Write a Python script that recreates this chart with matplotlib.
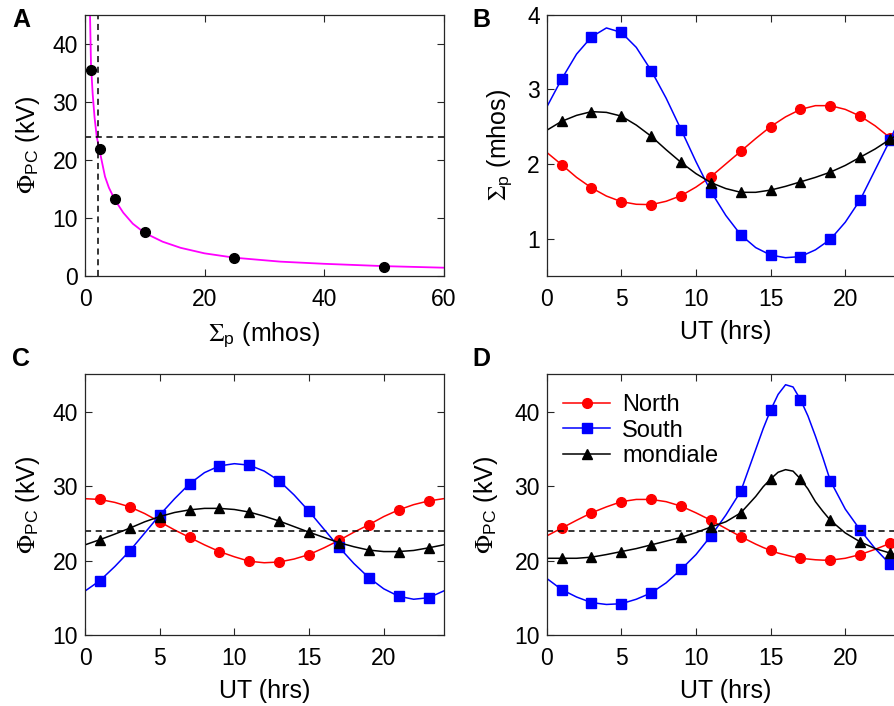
import numpy as np
import matplotlib
matplotlib.use("Agg")
import matplotlib.pyplot as plt

plt.rcParams['font.family'] = ['Liberation Sans', 'DejaVu Sans']
plt.rcParams['mathtext.fontset'] = 'custom'
plt.rcParams['mathtext.rm'] = 'STIXGeneral'
plt.rcParams['mathtext.it'] = 'STIXGeneral:italic'
plt.rcParams['mathtext.bf'] = 'STIXGeneral:bold'
plt.rcParams['mathtext.sf'] = 'Liberation Sans'
plt.rcParams['font.size'] = 16

# ---------------- Panel A data ----------------
a_sigma_pts = [1, 2.5, 5, 10, 25, 50]
a_phi_pts = [35.5, 21.8, 13.3, 7.5, 3.15, 1.5]
a_curve_x = [0.84, 1.0, 1.28, 1.6, 1.96, 2.5, 3.35, 4.0, 5.0, 6.4, 8.0, 10, 13, 16, 20, 25, 32.7, 40, 50, 60]
a_curve_y = [45, 36.5, 31.4, 27.3, 24.0, 21.3, 17.1, 15.2, 13.1, 10.9, 9.0, 7.4, 5.9, 4.85, 3.9, 3.15, 2.47, 2.1, 1.7, 1.43]
a_vline = 2.1
phi_ref = 24

ut = list(range(0, 25))  # 0..24 hours

# ---------------- Panel B data (Sigma_p, mhos) ----------------
b_north = [2.155, 1.99, 1.82, 1.68, 1.57, 1.495, 1.46, 1.455, 1.50, 1.575, 1.69, 1.83, 2.00,
           2.17, 2.34, 2.50, 2.63, 2.73, 2.78, 2.78, 2.73, 2.64, 2.51, 2.35, 2.155]
b_south = [2.76, 3.135, 3.47, 3.70, 3.82, 3.76, 3.56, 3.25, 2.88, 2.46, 2.03, 1.63, 1.31,
           1.05, 0.88, 0.78, 0.745, 0.76, 0.85, 0.99, 1.22, 1.52, 1.92, 2.32, 2.76]
b_world = [2.45, 2.57, 2.65, 2.70, 2.69, 2.64, 2.52, 2.37, 2.19, 2.02, 1.87, 1.75, 1.67,
           1.62, 1.62, 1.65, 1.70, 1.76, 1.82, 1.89, 1.98, 2.09, 2.20, 2.33, 2.45]

# ---------------- Panel C data (Phi_PC, kV) ----------------
c_north = [28.3, 28.2, 27.8, 27.2, 26.3, 25.2, 24.1, 23.1, 22.1, 21.2, 20.5, 19.9, 19.7,
           19.8, 20.2, 20.8, 21.7, 22.7, 23.8, 24.8, 25.9, 26.8, 27.5, 28.0, 28.3]
c_south = [15.9, 17.3, 19.2, 21.3, 23.7, 26.1, 28.3, 30.3, 31.8, 32.7, 33.0, 32.8, 32.0,
           30.7, 28.8, 26.6, 24.2, 21.8, 19.6, 17.7, 16.2, 15.2, 14.8, 15.0, 15.9]
c_world = [22.1, 22.8, 23.55, 24.35, 25.2, 25.9, 26.45, 26.8, 27.0, 27.0, 26.85, 26.5, 25.95,
           25.3, 24.55, 23.8, 23.1, 22.4, 21.85, 21.4, 21.2, 21.2, 21.35, 21.7, 22.1]

# ---------------- Panel D data (Phi_PC, kV), half-hour readings near the peak ----------------
d_ut = [0, 1, 2, 3, 4, 5, 6, 7, 8, 9, 10, 11, 12, 13, 14, 14.5, 15, 15.5, 16, 16.5,
        17, 17.5, 18, 18.5, 19, 20, 21, 22, 23, 24]
d_north = [23.3, 24.35, 25.4, 26.4, 27.2, 27.9, 28.2, 28.2, 27.9, 27.3, 26.4, 25.4, 24.3,
           23.2, 22.2, 21.75, 21.35, 21.0, 20.75, 20.5, 20.3, 20.2, 20.1, 20.05, 20.05,
           20.3, 20.8, 21.5, 22.3, 23.3]
d_south = [17.6, 16.1, 15.1, 14.35, 14.1, 14.2, 14.8, 15.65, 17.0, 18.8, 20.8, 23.3, 26.1,
           29.3, 34.9, 37.7, 40.2, 42.3, 43.6, 43.3, 41.6, 39.4, 36.7, 33.8, 30.7,
           26.9, 24.1, 21.6, 19.5, 17.6]
d_world = [20.3, 20.3, 20.3, 20.45, 20.8, 21.2, 21.6, 22.1, 22.6, 23.1, 23.75, 24.5, 25.2,
           26.4, 28.6, 29.9, 30.95, 31.85, 32.2, 32.0, 30.95, 29.6, 27.9, 26.6, 25.4,
           23.7, 22.5, 21.6, 21.0, 20.3]

labels = ['North', 'South', 'mondiale']
colors = ['#ff0000', '#0000ff', '#000000']
markers = ['o', 's', '^']

fig = plt.figure(figsize=(8.94, 7.06), dpi=100)
W, H = 894, 706

def ax_at(x0, y0, x1, y1):
    return fig.add_axes([x0 / W, 1 - y1 / H, (x1 - x0) / W, (y1 - y0) / H])

axA = ax_at(85, 14.5, 443.5, 276)
axB = ax_at(546.7, 14.5, 905, 276)
axC = ax_at(85, 374.3, 443.5, 635)
axD = ax_at(546.7, 374.3, 905, 635)

LBL = 18
spine_c = '#262626'
for ax in (axA, axB, axC, axD):
    ax.tick_params(direction='in', top=True, right=True, length=5, width=0.8,
                   colors=spine_c, labelcolor='black', labelsize=16.5)
    ax.tick_params(axis='x', pad=8.5)
    ax.tick_params(axis='y', pad=5)
    for s in ax.spines.values():
        s.set_color(spine_c)
        s.set_linewidth(0.9)

# Panel A
axA.plot(a_curve_x, a_curve_y, color='#ff00ff', lw=1.3)
axA.plot(a_sigma_pts, a_phi_pts, 'o', color='black', ms=7)
axA.axhline(phi_ref, color='black', ls=(0, (4, 3)), lw=1.1)
axA.axvline(a_vline, color='black', ls=(0, (4, 3)), lw=1.1)
axA.set_xlim(0, 60)
axA.set_ylim(0, 45)
axA.set_xticks([0, 20, 40, 60])
axA.set_yticks([0, 10, 20, 30, 40])
axA.set_xlabel(r'$\Sigma_{\mathsf{p}}$ (mhos)', fontsize=LBL)
axA.set_ylabel(r'$\Phi_{\mathsf{PC}}$ (kV)', fontsize=LBL)


def draw_series(ax, x, series):
    x = np.array(x, dtype=float)
    odd = (x % 2 == 1)
    for vals, lab, c, m in zip(series, labels, colors, markers):
        v = np.array(vals)
        ax.plot(x, v, color=c, lw=1.1)
        ax.plot(x[odd], v[odd], ls='none', marker=m, color=c, ms=7)
        ax.plot([], [], color=c, lw=1.1, marker=m, ms=7, label=lab)

draw_series(axB, ut, [b_north, b_south, b_world])
axB.set_xlim(0, 24)
axB.set_ylim(0.5, 4)
axB.set_yticks([1, 2, 3, 4])
axB.set_xticks([0, 5, 10, 15, 20])
axB.set_xlabel('UT (hrs)', fontsize=LBL)
axB.set_ylabel(r'$\Sigma_{\mathsf{p}}$ (mhos)', fontsize=LBL)

for ax, x, ser in ((axC, ut, [c_north, c_south, c_world]), (axD, d_ut, [d_north, d_south, d_world])):
    draw_series(ax, x, ser)
    ax.axhline(phi_ref, color='black', ls=(0, (4, 3)), lw=1.1)
    ax.set_xlim(0, 24)
    ax.set_ylim(10, 45)
    ax.set_yticks([10, 20, 30, 40])
    ax.set_xticks([0, 5, 10, 15, 20])
    ax.set_xlabel('UT (hrs)', fontsize=LBL)
    ax.set_ylabel(r'$\Phi_{\mathsf{PC}}$ (kV)', fontsize=LBL)

axD.legend(loc='upper left', frameon=False, fontsize=17, handlelength=2.0,
           handletextpad=0.5, labelspacing=0.15, borderaxespad=0.3,
           bbox_to_anchor=(0.0, 0.987))

axA.yaxis.set_label_coords(-0.12, 0.5)
axC.yaxis.set_label_coords(-0.12, 0.5)
axB.yaxis.set_label_coords(-0.092, 0.5)
axD.yaxis.set_label_coords(-0.13, 0.5)
for ax in (axA, axB, axC, axD):
    ax.xaxis.set_label_coords(0.5, -0.17)

for letter, x, y in (('A', 12, 8), ('B', 472, 8), ('C', 12, 347), ('D', 472, 347)):
    fig.text(x / W, 1 - y / H, letter, fontsize=18, fontweight='bold', va='top', ha='left')

fig.savefig('out.png', dpi=100)
